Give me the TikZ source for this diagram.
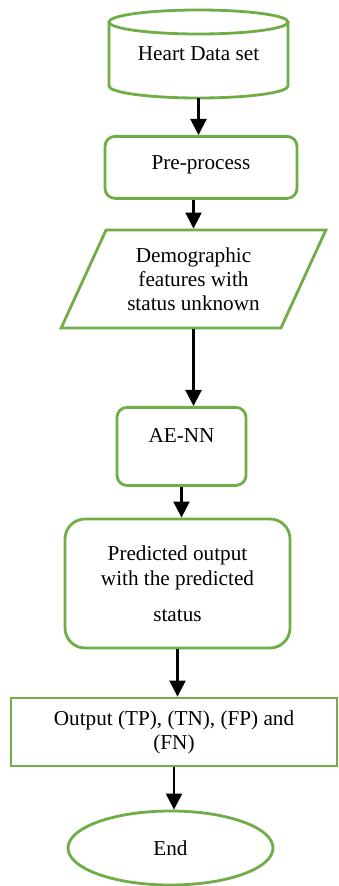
\documentclass[tikz,border=0pt]{standalone}
\usepackage{fontspec}
\setmainfont{Liberation Serif}
\usetikzlibrary{shapes.geometric,arrows.meta}
\definecolor{flowgreen}{RGB}{112,173,71}

\begin{document}
\begin{tikzpicture}[x=0.5pt,y=0.5pt,
    every node/.style={font=\fontsize{10.6pt}{12pt}\selectfont, align=center},
    gline/.style={draw=flowgreen, line width=1.4pt},
    rbox/.style={gline, rounded corners=5pt, inner sep=0pt},
    arr/.style={-{Triangle[length=8pt,width=8pt]}, line width=1.1pt}]
    \useasboundingbox (0,0) rectangle (338,-886);
    \node[inner sep=0pt, minimum width=89.5pt, minimum height=44pt] (data) at (198.5,-54) {Heart Data set};
    \draw[gline] (198.5,-22) ellipse (89.5 and 12);
    \draw[gline] (109,-22) -- (109,-86) arc (180:360:89.5 and 12) -- (288,-22);
    \node[rbox, anchor=north, minimum width=96pt, text height=16.5pt, text depth=14.5pt] (pre) at (201,-135) {Pre-process};
    \node[gline, trapezium, trapezium left angle=61.6, trapezium right angle=118.4, trapezium stretches=true,
        minimum width=133.5pt, minimum height=49pt, inner sep=0pt] (demo) at (193.5,-279)
        {Demographic\\features with\\status unknown};
    \node[rbox, anchor=north, minimum width=64.5pt, text height=17.5pt, text depth=21.5pt] (ae) at (181.5,-406) {AE-NN};
    \node[rbox, rounded corners=10pt, minimum width=112.5pt, minimum height=64.5pt] (pred) at (177.5,-583.5)
        {Predicted output\\[0.5pt]with the predicted\\[6pt]status};
    \node[gline, inner sep=0pt, minimum width=163pt, minimum height=34pt] (out) at (174,-732)
        {Output (TP), (TN), (FP) and\\(FN)};
    \node[gline, ellipse, inner sep=0pt, minimum width=102.5pt, minimum height=37pt] (end) at (170.5,-848) {End};
    \draw[arr] (data.south) -- (data.south |- pre.north);
    \draw[arr] (pre.south -| demo.north) -- (demo.north);
    \draw[arr] (demo.south) -- (demo.south |- ae.north);
    \draw[arr] (ae.south) -- (ae.south |- pred.north);
    \draw[arr] (pred.south) -- (pred.south |- out.north);
    \draw[arr] (out.south) -- (out.south |- end.north);
\end{tikzpicture}
\end{document}
